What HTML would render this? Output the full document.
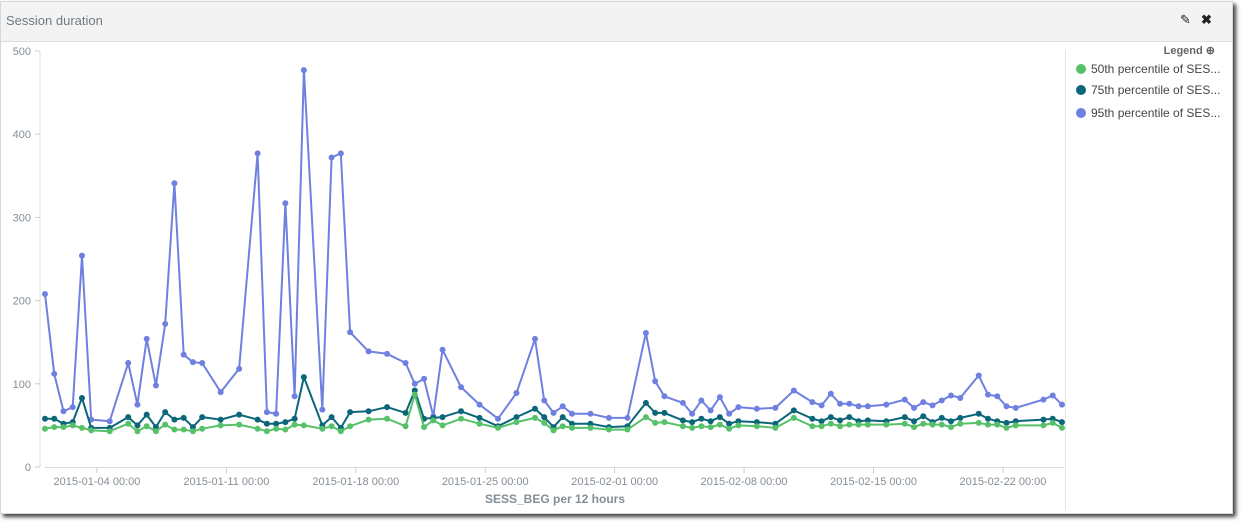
<!DOCTYPE html>
<html><head><meta charset="utf-8">
<style>
html,body{margin:0;padding:0;background:#fff;width:1242px;height:522px;overflow:hidden;font-family:"Liberation Sans",sans-serif;}
#panel{position:absolute;left:0;top:1px;width:1231px;height:511px;background:#fff;border:1px solid #d8d8d8;box-shadow:3px 3px 4px rgba(0,0,0,0.75);}
#header{position:absolute;left:0;top:0;width:1231px;height:39px;background:#f3f3f3;border-bottom:1px solid #dcdcdc;}
#title{position:absolute;left:5px;top:11px;font-size:13px;color:#6f7a85;}
.icon{position:absolute;top:10px;font-size:13px;color:#222;cursor:pointer;}
#legend{position:absolute;left:1064px;top:48px;width:167px;height:460px;border-left:1px solid #e6e6e6;}
#legend-title{position:absolute;right:18px;top:-6px;font-size:11px;font-weight:bold;color:#666;}
.le{position:absolute;left:10px;font-size:12px;color:#444;white-space:nowrap;}
.le span.dot{display:inline-block;width:10px;height:10px;border-radius:50%;margin-right:5px;vertical-align:-1px;}
svg text{font-family:"Liberation Sans",sans-serif;}
</style></head><body>
<div id="panel">
  <div id="header">
    <div id="title">Session duration</div>
    <div class="icon" style="left:1179px">✎</div>
    <div class="icon" style="left:1200px;font-weight:bold">✖</div>
  </div>
  <div id="legend">
    <div id="legend-title">Legend ⊕</div>
    <div class="le" style="top:12px"><span class="dot" style="background:#57c16a"></span>50th percentile of SES...</div>
    <div class="le" style="top:33px"><span class="dot" style="background:#0b6679"></span>75th percentile of SES...</div>
    <div class="le" style="top:56px"><span class="dot" style="background:#6f80e0"></span>95th percentile of SES...</div>
  </div>
</div>
<svg id="chart" width="1242" height="522" style="position:absolute;left:0;top:0"></svg>
<script>
const idx = [0,1,2,3,4,5,7,9,10,11,12,13,14,15,16,17,19,21,23,24,25,26,27,28,30,31,32,33,35,37,39,40,41,42,43,45,47,49,51,53,54,55,56,57,59,61,63,65,66,67,69,70,71,72,73,74,75,77,79,81,83,84,85,86,87,88,89,91,93,94,95,96,97,98,99,101,102,103,104,105,108,109,110];
const p95 = [208,112,67,72,254,57,55,125,75,154,98,172,341,135,126,125,90,118,377,66,64,317,85,477,69,372,377,162,139,136,125,100,106,61,141,96,75,58,89,154,80,65,73,64,64,59,59,161,103,85,77,64,80,68,84,64,72,70,71,92,78,74,88,76,76,73,73,75,81,71,78,74,80,86,83,110,87,85,73,71,81,86,75];
const p75 = [58,58,52,54,83,47,47,60,50,63,48,66,57,59,48,60,57,63,57,52,52,54,58,108,50,60,47,66,67,72,65,92,58,59,60,67,59,49,60,70,60,48,60,52,52,48,49,77,65,65,56,54,58,55,60,52,55,54,52,68,58,55,60,56,60,55,56,55,60,55,61,54,59,55,59,64,58,55,53,55,57,58,54];
const p50 = [46,48,48,50,47,44,43,52,43,49,43,51,45,45,43,46,50,51,46,43,46,45,51,50,46,49,43,49,57,58,49,87,48,56,50,58,52,47,54,59,53,44,49,47,47,45,45,60,53,54,49,47,49,48,51,46,50,49,47,59,49,49,52,49,51,51,51,51,52,48,52,51,51,48,52,53,51,51,47,50,50,53,47];
const yTicks = [0,100,200,300,400,500];
const xTickLabels = ["2015-01-04 00:00","2015-01-11 00:00","2015-01-18 00:00","2015-01-25 00:00","2015-02-01 00:00","2015-02-08 00:00","2015-02-15 00:00","2015-02-22 00:00"];
const xTickIdx = [5.62,19.62,33.62,47.62,61.62,75.62,89.62,103.62];

const NS='http://www.w3.org/2000/svg';
const svg=document.getElementById('chart');
const X0=45, DX=9.245, Y0=467, YS=(467-51)/500;
const x=i=>X0+i*DX;
const y=v=>Y0-v*YS;
function mk(t,a,parent){const e=document.createElementNS(NS,t);for(const k in a)e.setAttribute(k,a[k]);(parent||svg).appendChild(e);return e;}

const axes=mk('g',{});


mk('line',{x1:40,y1:y(500),x2:40,y2:Y0,stroke:'#ddd','stroke-width':1},axes);
mk('line',{x1:45,y1:Y0+0.5,x2:1064,y2:Y0+0.5,stroke:'#ddd','stroke-width':1},axes);
yTicks.forEach(v=>{
  mk('line',{x1:35,y1:y(v),x2:40,y2:y(v),stroke:'#ccc'},axes);
  const t=mk('text',{x:31,y:y(v)+4,'text-anchor':'end','font-size':11,fill:'#848e96'},axes);
  t.textContent=v;
  
  
});
xTickLabels.forEach((lab,k)=>{
  const xx=x(xTickIdx[k]);
  mk('line',{x1:xx,y1:Y0,x2:xx,y2:Y0+6,stroke:'#ccc'},axes);
  const t=mk('text',{x:xx,y:485,'text-anchor':'middle','font-size':11,fill:'#848e96'},axes);
  t.textContent=lab;
  
  
});
const at=mk('text',{x:555,y:503,'text-anchor':'middle','font-size':12,'font-weight':'bold',fill:'#848e96'});
at.textContent='SESS_BEG per 12 hours';



const series=[[p50,'#57c16a','series-50th'],[p75,'#0b6679','series-75th'],[p95,'#6f80e0','series-95th']];
series.slice().reverse().forEach(([vals,col,name])=>{
  const g=mk('g',{});
  
  
  const d=vals.map((v,i)=>(i?'L':'M')+x(idx[i]).toFixed(1)+' '+y(v).toFixed(1)).join(' ');
  mk('path',{d:d,fill:'none',stroke:col,'stroke-width':2,'stroke-linejoin':'round'},g);
  vals.forEach((v,i)=>{
    const c=mk('circle',{cx:x(idx[i]),cy:y(v),r:3,fill:col},g);
    
    
  });
});
</script>
</body></html>
